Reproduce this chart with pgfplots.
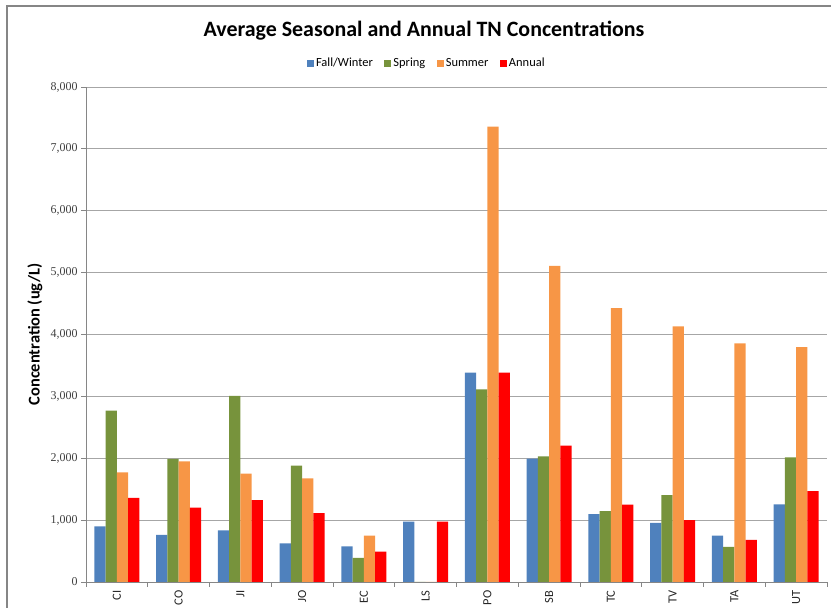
\documentclass[border=0pt]{standalone}
\usepackage{pgfplots}
\pgfplotsset{compat=1.18}
\usepackage{fontspec}
\setmainfont{Carlito}
\newfontfamily\numfont{Liberation Serif}
\definecolor{cFW}{HTML}{4F81BD}
\definecolor{cSP}{HTML}{77933C}
\definecolor{cSU}{HTML}{F79646}
\definecolor{cAN}{HTML}{FF0000}
\definecolor{gridc}{HTML}{A6A6A6}
\definecolor{axc}{HTML}{868686}
\begin{document}
\begin{tikzpicture}[x=1bp,y=1bp]
\path[use as bounding box] (0,0) rectangle (831,608);
\draw[axc, line width=1.2bp] (7,0) -- (7,602) -- (831,602);
\node[font=\fontsize{22}{24}\selectfont\bfseries] at (424,577) {Average Seasonal and Annual TN Concentrations};
\begin{axis}[
  at={(86bp,26bp)}, anchor=south west,
  scale only axis, width=741bp, height=495bp,
  ybar=0pt, bar width=11.3bp,
  xmin=-0.5, xmax=11.5, ymin=0, ymax=8000,
  xtick={0,...,11},
  xticklabels={CI,CO,JI,JO,EC,LS,PO,SB,TC,TV,TA,UT},
  x tick label style={rotate=90, anchor=east, font=\fontsize{12.5}{13}\selectfont, text=black!85},
  major x tick style={draw=none},
  minor xtick={-0.5,0.5,...,11.5},
  minor x tick style={axc, line width=0.8bp},
  minor tick length=5bp,
  ytick={0,1000,...,8000},
  y tick label style={font=\numfont\fontsize{12}{13}\selectfont, text=black!75},
  /pgf/number format/assume math mode=true,
  /pgf/number format/1000 sep={,},
  scaled y ticks=false,
  major tick length=5bp,
  y tick style={axc, line width=0.8bp},
  tick align=outside,
  xtick pos=bottom, ytick pos=left,
  axis x line*=bottom, axis y line*=left,
  axis line style={axc, line width=0.9bp},
  ymajorgrids, grid style={gridc, line width=0.9bp},
  ylabel={Concentration (ug/L)},
  ylabel style={font=\fontsize{16.5}{18}\selectfont\bfseries, at={(-51bp,0.5)}, anchor=center},
  legend columns=4,
  legend style={at={(0.459,1.0465)}, anchor=center, draw=none, fill=none,
    font=\fontsize{12.5}{13}\selectfont, inner sep=0pt, column sep=1.5bp,
    nodes={inner sep=0.5bp, text height=1.6ex, text depth=0.45ex},
    /tikz/every even column/.append style={column sep=11bp}},
  legend image code/.code={\fill[#1] (0bp,-3.5bp) rectangle (7bp,3.5bp);},
  enlarge x limits=false,
  clip=false,
]
\addplot[fill=cFW, draw=none] coordinates {(0,900) (1,760) (2,835) (3,625) (4,577) (5,975) (6,3385) (7,1995) (8,1095) (9,955) (10,750) (11,1255)};
\addplot[fill=cSP, draw=none] coordinates {(0,2770) (1,1990) (2,3010) (3,1880) (4,390) (5,0) (6,3115) (7,2030) (8,1145) (9,1405) (10,566) (11,2015)};
\addplot[fill=cSU, draw=none] coordinates {(0,1770) (1,1950) (2,1750) (3,1675) (4,750) (5,0) (6,7360) (7,5110) (8,4425) (9,4130) (10,3855) (11,3795)};
\addplot[fill=cAN, draw=none] coordinates {(0,1360) (1,1200) (2,1325) (3,1115) (4,490) (5,975) (6,3385) (7,2205) (8,1250) (9,1000) (10,680) (11,1470)};
\legend{Fall/Winter, Spring, Summer, Annual}
\end{axis}
\end{tikzpicture}
\end{document}
